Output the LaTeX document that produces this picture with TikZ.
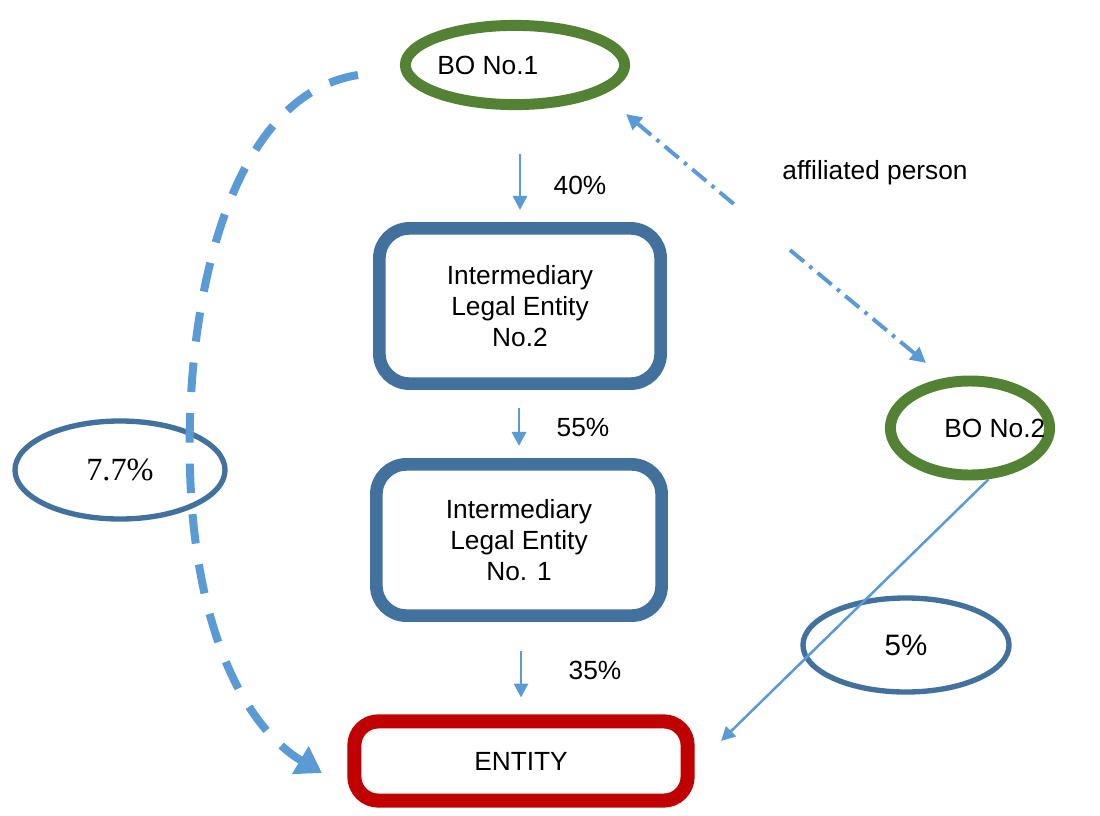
\documentclass[tikz,border=0pt]{standalone}
\usepackage{fontspec}
\setmainfont{Liberation Sans}
\newfontfamily\numfont{Liberation Serif}
\usetikzlibrary{arrows.meta,shapes.geometric}

\definecolor{bogreen}{RGB}{84,130,53}
\definecolor{boxblue}{RGB}{65,113,156}
\definecolor{flowblue}{RGB}{91,155,213}
\definecolor{entred}{RGB}{192,0,0}

\begin{document}
\begin{tikzpicture}
  [x=0.025cm,y=-0.025cm,
   every node/.style={font=\fontsize{18.7}{22}\selectfont},
   owner/.style={ellipse,draw=bogreen,line width=7.8pt},
   ile/.style={rectangle,rounded corners=0.75cm,draw=boxblue,line width=9pt,align=center},
   share/.style={ellipse,draw=boxblue,line width=3.8pt,font=\fontsize{21}{24}\selectfont},
   flow/.style={draw=flowblue,line width=2pt,-{Triangle[length=10pt,width=10pt]}}]
  \useasboundingbox (0,0) rectangle (1100,816);

  \node[owner,minimum width=5.48cm,minimum height=1.98cm,
        label={[xshift=-0.68cm]center:BO No.1}] (bo1) at (515,65) {};
  \node[owner,minimum width=3.98cm,minimum height=2.35cm,
        label={[xshift=0.62cm]center:BO No.2}] (bo2) at (970,428) {};
  \node[ile,minimum width=7.03cm,minimum height=3.88cm] (ile2) at (520,306)
    {Intermediary\\Legal Entity\\No.2};
  \node[ile,minimum width=7.13cm,minimum height=3.78cm] (ile1) at (519,540)
    {Intermediary\\ Legal Entity\\No. 1};
  \node[rectangle,rounded corners=0.6cm,draw=entred,line width=10pt,
        minimum width=8.33cm,minimum height=1.98cm] (entity) at (521,761) {ENTITY};
  \node[share,minimum width=5.25cm,minimum height=2.45cm] (sh77) at (120,470)
    {\numfont\fontsize{23}{26}\selectfont 7.7\%};
  \node[share,minimum width=5.15cm,minimum height=2.35cm] (sh5) at (906,645) {5\%};

  \node (p40) at (580,185) {40\%};
  \node (p55) at (583,428) {55\%};
  \node (p35) at (595,670) {35\%};
  \node (aff) at (875,173) {affiliated person};

  \coordinate (affA) at (735,205);
  \coordinate (affB) at (790,250);
  \coordinate (affC) at (626,114);
  \coordinate (affD) at (926,363);
  \coordinate (dashA) at (358,75);
  \coordinate (dashB) at (322,773);
  \coordinate (own5) at (721,741);

\foreach \from/\to/\s/\e in
{bo1/ile2/1.1cm/0.3cm, ile2/ile1/0.45cm/0.3cm, ile1/entity/0.72cm/0.42cm}
    \draw[flow,shorten <=\s,shorten >=\e] (\from.south -| \to.north) -- (\to.north);

  % affiliation between the two owners
  \draw[flowblue,line width=2.8pt,dash pattern=on 13pt off 5pt on 2.5pt off 5pt,
        {Triangle[length=11pt,width=11pt]}-] (affC) -- (affA);
  \draw[flowblue,line width=2.8pt,dash pattern=on 13pt off 5pt on 2.5pt off 5pt,
        -{Triangle[length=11pt,width=11pt]}] (affB) -- (affD);

  % indirect and direct holdings
  \draw[flowblue,line width=5.7pt,dash pattern=on 21pt off 15pt,
        -{Triangle[length=18pt,width=22pt]}]
    (dashA) .. controls (230,95) and (185,300) .. (190,470)
            .. controls (195,640) and (250,730) .. (dashB);
  \draw[flow,line width=1.8pt] (bo2.-70) -- (own5);
\end{tikzpicture}
\end{document}
